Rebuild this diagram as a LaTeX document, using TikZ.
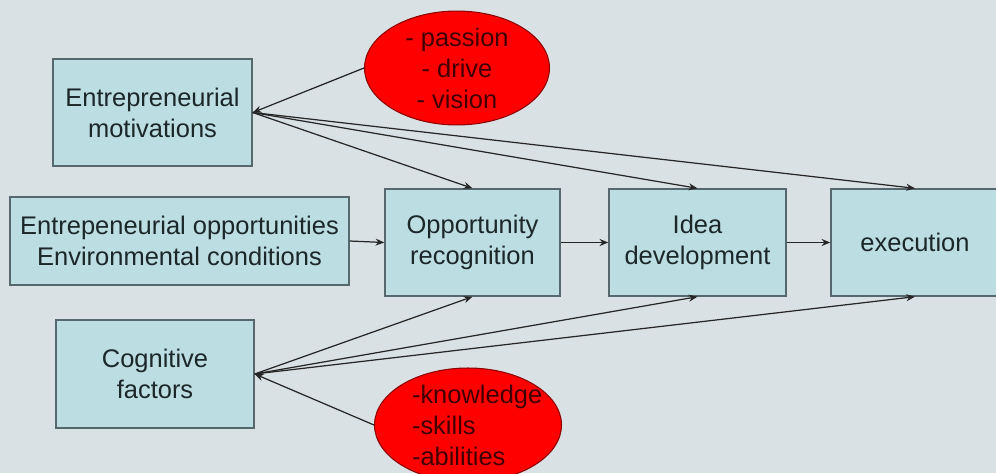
\documentclass[tikz,border=0pt]{standalone}
\usepackage{fontspec}
\setmainfont{Liberation Sans}
\usetikzlibrary{arrows.meta, shapes.geometric}

\definecolor{slidebg}{HTML}{DAE1E5}
\definecolor{boxfill}{HTML}{BCDDE2}
\definecolor{boxline}{HTML}{56686D}
\definecolor{textdark}{HTML}{1B2729}

\begin{document}
\begin{tikzpicture}[%
        x = 0.02cm, y = -0.02cm,
        stage/.style = {%
            draw = boxline, fill = boxfill, line width = 0.8pt,
            align = center, text = textdark, inner sep = 0pt,
            font = \fontsize{14.5}{17.6}\selectfont
        },
        trait/.style = {%
            ellipse, draw = red!55!black, fill = red, line width = 0.6pt,
            text = red!25!black, inner sep = 0pt,
            font = \fontsize{14.5}{17.6}\selectfont
        },
        link/.style = {%
            -{Stealth[length = 5pt, width = 4pt]},
            line width = 0.7pt, draw = black!85
        }
    ]

        % Page and its background.
        \useasboundingbox (0,0) rectangle (996,473);
        \fill[slidebg] (0,0) rectangle (996,473);

        % The inputs on the left.
        \node[stage, minimum width = 3.98cm, minimum height = 2.14cm]
            (mot) at (152.5,112.5) {Entrepreneurial\\motivations};
        \node[stage, minimum width = 6.78cm, minimum height = 1.76cm]
            (opp) at (179.5,241) {Entrepeneurial opportunities\\Environmental conditions};
        \node[stage, minimum width = 3.96cm, minimum height = 2.16cm]
            (cog) at (155,374) {Cognitive\\factors};

        % The three stages of the process.
        \node[stage, minimum width = 3.5cm, minimum height = 2.14cm]
            (rec) at (472.5,242.5) {Opportunity\\recognition};
        \node[stage, minimum width = 3.54cm, minimum height = 2.14cm]
            (idea) at (697.5,242.5) {Idea\\development};
        \node[stage, minimum width = 3.36cm, minimum height = 2.14cm]
            (exec) at (915,242.5) {execution};

        % The red ellipses.
        \node[trait, align = center, minimum width = 3.7cm, minimum height = 2.2cm]
            (drive) at (457,68) {- passion\\- drive\\- vision};
        \node[trait, align = left, text width = 2.24cm,
              minimum width = 3.74cm, minimum height = 2.28cm]
            (skills) at (468,425) {\mbox{-knowledge}\\\mbox{-skills}\\\mbox{-abilities}};

        % Arrows along the middle row.
        \draw[link] (opp.east) -- (rec.west);
        \draw[link] (rec.east) -- (idea.west);
        \draw[link] (idea.east) -- (exec.west);

        % Arrows from the motivations and the cognitive factors.
        \foreach\t in {rec, idea, exec}{%
            \draw[link] (mot.east) -- (\t.north);
            \draw[link] (cog.east) -- (\t.south);
        }

        % Arrows from the ellipses.
        \draw[link] (drive.west) -- (mot.east);
        \draw[link] (skills.west) -- (cog.east);
    \end{tikzpicture}
\end{document}
